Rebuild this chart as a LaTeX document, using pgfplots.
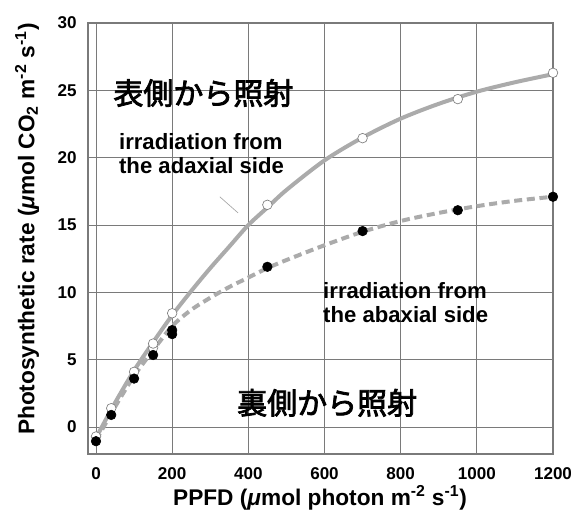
\documentclass[border=0pt]{standalone}
\usepackage{fontspec}
\setmainfont{Liberation Sans}
\newfontfamily\cjk{Noto Sans CJK JP}[FakeBold=2.5]
\usepackage{pgfplots}
\pgfplotsset{compat=1.18}
\definecolor{curvegray}{HTML}{ABABAB}
\definecolor{gridgray}{HTML}{7A7A7A}
\begin{document}
\begin{tikzpicture}
\useasboundingbox (-66pt,-48.75pt) rectangle (362.25pt,340.5pt);
\begin{axis}[
  scale only axis,
  width=348.75pt, height=323.25pt,
  xmin=-21, xmax=1200, ymin=-2, ymax=30,
  xtick={0,200,...,1200}, ytick={0,5,...,30},
  grid=major,
  major grid style={gridgray, line width=0.6pt},
  axis line style={gridgray, line width=0.8pt},
  major tick length=0pt,
  /pgf/number format/assume math mode=true,
  /pgf/number format/1000 sep={},
  ticklabel style={font=\fontsize{12.8}{14}\selectfont\bfseries},
  xticklabel style={yshift=-7pt},
  yticklabel style={xshift=-5pt},
  xlabel={PPFD (\textit{μ}mol photon m\textsuperscript{-2} s\textsuperscript{-1})},
  ylabel={Photosynthetic rate (\textit{μ}mol CO\textsubscript{2} m\textsuperscript{-2} s\textsuperscript{-1})},
  label style={font=\fontsize{17}{19}\selectfont\bfseries},
  xlabel style={at={(axis description cs:0.499,-0.102)}, anchor=center},
  ylabel style={at={(axis description cs:-0.131,0.522)}, anchor=center},
  clip=false,
]
% fitted curve, adaxial irradiation
\addplot[curvegray, line width=3pt, smooth, no marks] coordinates {
 (0,-0.8) (50,1.8) (100,4.2) (150,6.3) (200,8.3) (250,10.1) (300,11.8)
 (350,13.4) (400,15.0) (450,16.3) (500,17.6) (600,19.8) (700,21.5)
 (800,22.9) (900,24.0) (1000,24.9) (1100,25.6) (1200,26.2)};
% fitted curve, abaxial irradiation
\addplot[curvegray, line width=3pt, dash pattern=on 6pt off 3.5pt, smooth, no marks] coordinates {
 (0,-1.0) (50,1.5) (100,3.8) (150,5.7) (200,7.5) (250,8.7) (300,9.6)
 (350,10.4) (400,11.1) (450,11.8) (500,12.4) (600,13.5) (700,14.5)
 (800,15.3) (900,15.9) (1000,16.4) (1100,16.8) (1200,17.1)};
% measured, adaxial (open)
\addplot[only marks, mark=*, mark size=3.6pt, mark options={fill=white, draw=gray, line width=0.5pt}] coordinates {
 (0,-0.7) (40,1.4) (100,4.1) (150,5.9) (150,6.2) (200,8.45)
 (450,16.5) (700,21.45) (950,24.35) (1200,26.3)};
% measured, abaxial (filled)
\addplot[only marks, mark=*, mark size=3.6pt, mark options={fill=black, draw=black}] coordinates {
 (0,-1.05) (40,0.9) (100,3.6) (150,5.35) (200,6.9) (200,7.2)
 (450,11.9) (700,14.55) (950,16.1) (1200,17.1)};
\draw[gray!70, line width=0.5pt] (axis cs:325,17.1) -- (axis cs:373,15.9);
\node[anchor=west, inner sep=0pt, font=\cjk\fontsize{22.5}{24}\selectfont] at (axis cs:45,24.8) {表側から照射};
\node[anchor=west, inner sep=0pt, align=left, font=\fontsize{16.6}{17.5}\selectfont\bfseries] at (axis cs:60,20.3) {irradiation from\\the adaxial side};
\node[anchor=west, inner sep=0pt, align=left, font=\fontsize{16.6}{17.5}\selectfont\bfseries] at (axis cs:596,9.25) {irradiation from\\the abaxial side};
\node[anchor=west, inner sep=0pt, font=\cjk\fontsize{22.5}{24}\selectfont] at (axis cs:370,1.8) {裏側から照射};
\end{axis}
\end{tikzpicture}
\end{document}
